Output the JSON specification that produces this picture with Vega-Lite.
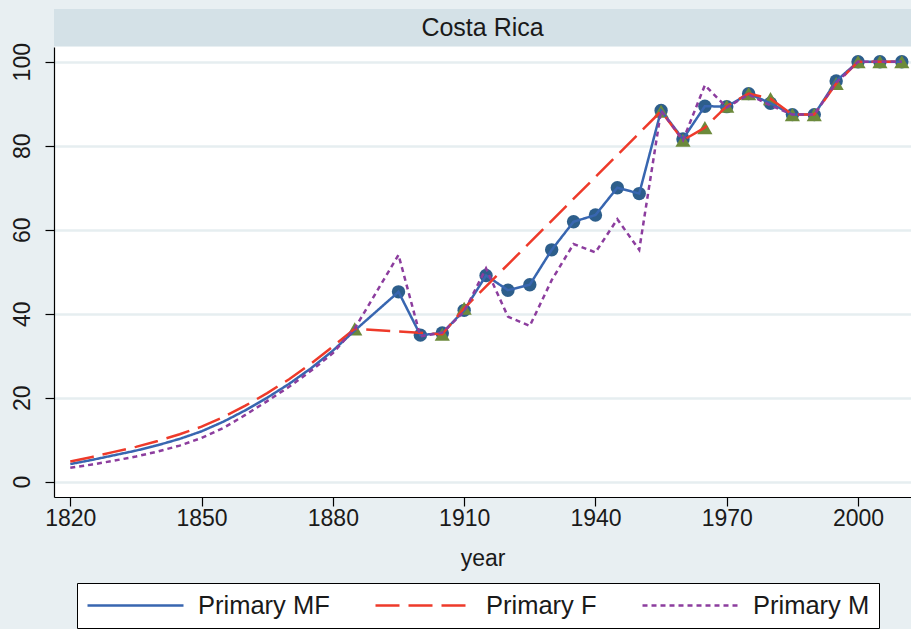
{
  "$schema": "https://vega.github.io/schema/vega-lite/v6.json",
  "background": "#e8eff2",
  "padding": {"left": 0, "top": 9, "right": 0, "bottom": 0},
  "autosize": {"type": "pad"},
  "spacing": 1,
  "bounds": "flush",
  "config": {
    "font": "Liberation Sans",
    "view": {"stroke": null},
    "legend": {
      "orient": "none",
      "legendX": 23,
      "legendY": 574,
      "direction": "horizontal",
      "columns": 3,
      "fillColor": "white",
      "strokeColor": "black",
      "strokeWidth": 1,
      "padding": 9,
      "symbolType": "M-1,0H7",
      "symbolSize": 576,
      "symbolStrokeWidth": 2.5,
      "labelFontSize": 25.5,
      "labelColor": "#1a1a1a",
      "labelOffset": 85,
      "columnPadding": 40,
      "labelLimit": 400
    }
  },
  "datasets": {
    "series": [
      {"year": 1820, "s": "Primary MF", "v": 4.2, "obs": 0},
      {"year": 1825, "s": "Primary MF", "v": 5.2, "obs": 0},
      {"year": 1830, "s": "Primary MF", "v": 6.3, "obs": 0},
      {"year": 1835, "s": "Primary MF", "v": 7.4, "obs": 0},
      {"year": 1840, "s": "Primary MF", "v": 8.7, "obs": 0},
      {"year": 1845, "s": "Primary MF", "v": 10.2, "obs": 0},
      {"year": 1850, "s": "Primary MF", "v": 12.0, "obs": 0},
      {"year": 1855, "s": "Primary MF", "v": 14.3, "obs": 0},
      {"year": 1860, "s": "Primary MF", "v": 17.0, "obs": 0},
      {"year": 1865, "s": "Primary MF", "v": 20.0, "obs": 0},
      {"year": 1870, "s": "Primary MF", "v": 23.3, "obs": 0},
      {"year": 1875, "s": "Primary MF", "v": 27.0, "obs": 0},
      {"year": 1880, "s": "Primary MF", "v": 31.2, "obs": 0},
      {"year": 1885, "s": "Primary MF", "v": 36.0, "obs": 0},
      {"year": 1895, "s": "Primary MF", "v": 45.2, "obs": 1},
      {"year": 1900, "s": "Primary MF", "v": 34.9, "obs": 1},
      {"year": 1905, "s": "Primary MF", "v": 35.4, "obs": 1},
      {"year": 1910, "s": "Primary MF", "v": 40.8, "obs": 1},
      {"year": 1915, "s": "Primary MF", "v": 49.1, "obs": 1},
      {"year": 1920, "s": "Primary MF", "v": 45.6, "obs": 1},
      {"year": 1925, "s": "Primary MF", "v": 46.9, "obs": 1},
      {"year": 1930, "s": "Primary MF", "v": 55.2, "obs": 1},
      {"year": 1935, "s": "Primary MF", "v": 61.9, "obs": 1},
      {"year": 1940, "s": "Primary MF", "v": 63.5, "obs": 1},
      {"year": 1945, "s": "Primary MF", "v": 70.0, "obs": 1},
      {"year": 1950, "s": "Primary MF", "v": 68.6, "obs": 1},
      {"year": 1955, "s": "Primary MF", "v": 88.4, "obs": 1},
      {"year": 1960, "s": "Primary MF", "v": 81.6, "obs": 1},
      {"year": 1965, "s": "Primary MF", "v": 89.4, "obs": 1},
      {"year": 1970, "s": "Primary MF", "v": 89.3, "obs": 1},
      {"year": 1975, "s": "Primary MF", "v": 92.4, "obs": 1},
      {"year": 1980, "s": "Primary MF", "v": 90.1, "obs": 1},
      {"year": 1985, "s": "Primary MF", "v": 87.4, "obs": 1},
      {"year": 1990, "s": "Primary MF", "v": 87.4, "obs": 1},
      {"year": 1995, "s": "Primary MF", "v": 95.4, "obs": 1},
      {"year": 2000, "s": "Primary MF", "v": 100, "obs": 1},
      {"year": 2005, "s": "Primary MF", "v": 100, "obs": 1},
      {"year": 2010, "s": "Primary MF", "v": 100, "obs": 1},
      {"year": 1820, "s": "Primary F", "v": 4.8, "obs": 0},
      {"year": 1825, "s": "Primary F", "v": 5.9, "obs": 0},
      {"year": 1830, "s": "Primary F", "v": 7.1, "obs": 0},
      {"year": 1835, "s": "Primary F", "v": 8.3, "obs": 0},
      {"year": 1840, "s": "Primary F", "v": 9.7, "obs": 0},
      {"year": 1845, "s": "Primary F", "v": 11.3, "obs": 0},
      {"year": 1850, "s": "Primary F", "v": 13.1, "obs": 0},
      {"year": 1855, "s": "Primary F", "v": 15.4, "obs": 0},
      {"year": 1860, "s": "Primary F", "v": 18.1, "obs": 0},
      {"year": 1865, "s": "Primary F", "v": 21.1, "obs": 0},
      {"year": 1870, "s": "Primary F", "v": 24.4, "obs": 0},
      {"year": 1875, "s": "Primary F", "v": 28.1, "obs": 0},
      {"year": 1880, "s": "Primary F", "v": 32.2, "obs": 0},
      {"year": 1885, "s": "Primary F", "v": 36.4, "obs": 1},
      {"year": 1905, "s": "Primary F", "v": 35.1, "obs": 1},
      {"year": 1910, "s": "Primary F", "v": 41.3, "obs": 1},
      {"year": 1955, "s": "Primary F", "v": 88.2, "obs": 1},
      {"year": 1960, "s": "Primary F", "v": 81.3, "obs": 1},
      {"year": 1965, "s": "Primary F", "v": 84.3, "obs": 1},
      {"year": 1970, "s": "Primary F", "v": 89.4, "obs": 1},
      {"year": 1975, "s": "Primary F", "v": 92.4, "obs": 1},
      {"year": 1980, "s": "Primary F", "v": 91.2, "obs": 1},
      {"year": 1985, "s": "Primary F", "v": 87.4, "obs": 1},
      {"year": 1990, "s": "Primary F", "v": 87.4, "obs": 1},
      {"year": 1995, "s": "Primary F", "v": 94.8, "obs": 1},
      {"year": 2000, "s": "Primary F", "v": 100, "obs": 1},
      {"year": 2005, "s": "Primary F", "v": 100, "obs": 1},
      {"year": 2010, "s": "Primary F", "v": 100, "obs": 1},
      {"year": 1820, "s": "Primary M", "v": 3.3, "obs": 0},
      {"year": 1825, "s": "Primary M", "v": 4.1, "obs": 0},
      {"year": 1830, "s": "Primary M", "v": 5.0, "obs": 0},
      {"year": 1835, "s": "Primary M", "v": 6.0, "obs": 0},
      {"year": 1840, "s": "Primary M", "v": 7.2, "obs": 0},
      {"year": 1845, "s": "Primary M", "v": 8.6, "obs": 0},
      {"year": 1850, "s": "Primary M", "v": 10.4, "obs": 0},
      {"year": 1855, "s": "Primary M", "v": 12.8, "obs": 0},
      {"year": 1860, "s": "Primary M", "v": 15.9, "obs": 0},
      {"year": 1865, "s": "Primary M", "v": 19.2, "obs": 0},
      {"year": 1870, "s": "Primary M", "v": 22.6, "obs": 0},
      {"year": 1875, "s": "Primary M", "v": 26.4, "obs": 0},
      {"year": 1880, "s": "Primary M", "v": 30.6, "obs": 0},
      {"year": 1885, "s": "Primary M", "v": 36.5, "obs": 0},
      {"year": 1895, "s": "Primary M", "v": 54.0, "obs": 1},
      {"year": 1900, "s": "Primary M", "v": 34.6, "obs": 1},
      {"year": 1905, "s": "Primary M", "v": 35.5, "obs": 1},
      {"year": 1910, "s": "Primary M", "v": 40.5, "obs": 1},
      {"year": 1915, "s": "Primary M", "v": 50.8, "obs": 1},
      {"year": 1920, "s": "Primary M", "v": 39.3, "obs": 1},
      {"year": 1925, "s": "Primary M", "v": 37.1, "obs": 1},
      {"year": 1930, "s": "Primary M", "v": 48.0, "obs": 1},
      {"year": 1935, "s": "Primary M", "v": 56.6, "obs": 1},
      {"year": 1940, "s": "Primary M", "v": 54.6, "obs": 1},
      {"year": 1945, "s": "Primary M", "v": 62.5, "obs": 1},
      {"year": 1950, "s": "Primary M", "v": 55.2, "obs": 1},
      {"year": 1955, "s": "Primary M", "v": 88.4, "obs": 1},
      {"year": 1960, "s": "Primary M", "v": 81.3, "obs": 1},
      {"year": 1965, "s": "Primary M", "v": 94.4, "obs": 1},
      {"year": 1970, "s": "Primary M", "v": 89.1, "obs": 1},
      {"year": 1975, "s": "Primary M", "v": 92.2, "obs": 1},
      {"year": 1980, "s": "Primary M", "v": 89.6, "obs": 1},
      {"year": 1985, "s": "Primary M", "v": 87.4, "obs": 1},
      {"year": 1990, "s": "Primary M", "v": 87.4, "obs": 1},
      {"year": 1995, "s": "Primary M", "v": 95.0, "obs": 1},
      {"year": 2000, "s": "Primary M", "v": 100, "obs": 1},
      {"year": 2005, "s": "Primary M", "v": 100, "obs": 1},
      {"year": 2010, "s": "Primary M", "v": 100, "obs": 1}
    ]
  },
  "vconcat": [
    {
      "data": {"values": [{"country": "Costa Rica"}]},
      "width": 857,
      "height": 37,
      "view": {"fill": "#d4e1e7", "stroke": null},
      "mark": {"type": "text", "fontSize": 25, "color": "#1a1a1a", "font": "Liberation Sans"},
      "encoding": {
        "text": {"field": "country", "type": "nominal"}
      }
    },
    {
      "data": {"name": "series"},
      "width": 857,
      "height": 450,
      "view": {"fill": "white", "stroke": null},
      "encoding": {
        "x": {
          "field": "year", "type": "quantitative",
          "scale": {"domain": [1816.28, 2012.1], "nice": false, "zero": false},
          "axis": {
            "values": [1820, 1850, 1880, 1910, 1940, 1970, 2000],
            "format": "d", "grid": false, "labelFlush": false, "labelOverlap": false,
            "tickSize": 9, "tickColor": "black", "tickWidth": 1.2,
            "domainColor": "black", "domainWidth": 1.2,
            "labelFontSize": 23, "labelColor": "#1a1a1a", "labelPadding": 1,
            "title": "year", "titleFontSize": 23, "titleFontWeight": "normal", "titleColor": "#1a1a1a", "titlePadding": 17
          }
        },
        "y": {
          "field": "v", "type": "quantitative",
          "scale": {"domain": [-3.64, 103.5], "nice": false, "zero": false},
          "axis": {
            "values": [0, 20, 40, 60, 80, 100],
            "grid": true, "gridColor": "#e6eef0", "gridWidth": 2.5,
            "labelFlush": false, "labelOverlap": false,
            "tickSize": 9, "tickColor": "black", "tickWidth": 1.2,
            "domainColor": "black", "domainWidth": 1.2,
            "labelFontSize": 23, "labelColor": "#1a1a1a", "labelAngle": -90,
            "labelAlign": "center", "labelBaseline": "bottom", "labelPadding": 11,
            "title": null, "minExtent": 54, "maxExtent": 54
          }
        }
      },
      "layer": [
        {
          "transform": [{"filter": "datum.s == 'Primary MF' && datum.obs == 1"}],
          "mark": {"type": "point", "shape": "circle", "filled": true, "size": 180, "color": "#2d5e8b", "opacity": 1}
        },
        {
          "transform": [{"filter": "datum.s == 'Primary F' && datum.obs == 1"}],
          "mark": {"type": "point", "shape": "triangle-up", "filled": true, "size": 230, "color": "#6c8a3b", "opacity": 1}
        },
        {
          "mark": {"type": "line", "strokeWidth": 2.5},
          "encoding": {
            "color": {
              "field": "s", "type": "nominal",
              "scale": {"domain": ["Primary MF", "Primary F", "Primary M"], "range": ["#3866b0", "#ee3a2a", "#8c3d9e"]},
              "legend": {"title": null}
            },
            "strokeDash": {
              "field": "s", "type": "nominal",
              "scale": {"domain": ["Primary MF", "Primary F", "Primary M"], "range": [[1, 0], [24, 9], [5, 4]]},
              "legend": {"title": null}
            }
          }
        }
      ]
    }
  ]
}
